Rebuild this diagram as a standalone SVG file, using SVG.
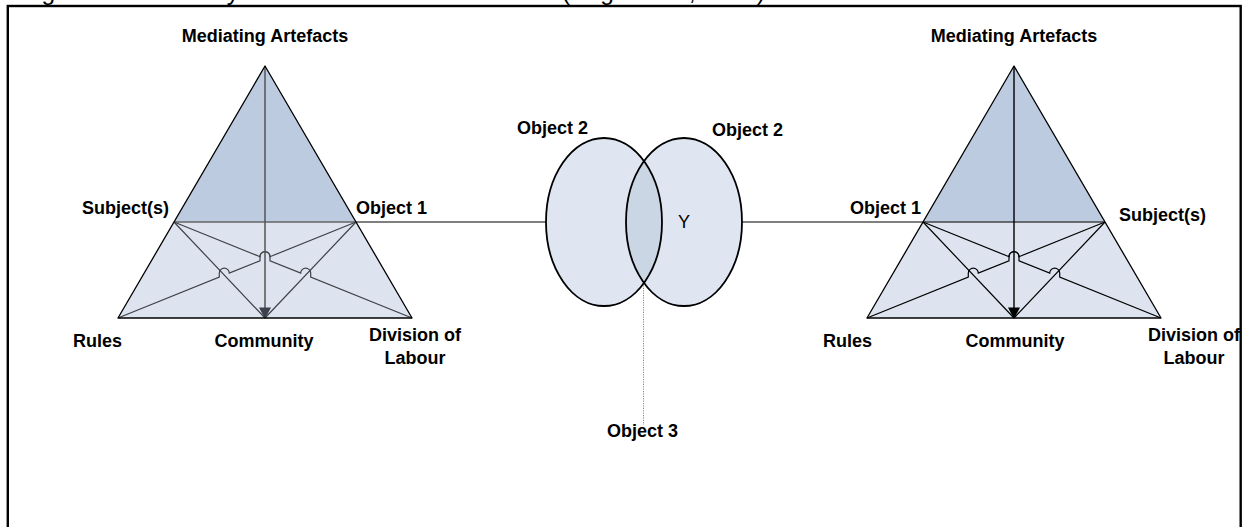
<svg xmlns="http://www.w3.org/2000/svg" width="1244" height="527" viewBox="0 0 1244 527">
  <style>
    .lbl { font-family: "Liberation Sans", Arial, sans-serif; font-size: 18px; font-weight: bold; fill: #000; }
    .plain { font-family: "Liberation Sans", Arial, sans-serif; font-size: 18px; fill: #000; }
    .cap { font-family: "Liberation Sans", Arial, sans-serif; font-size: 24.5px; fill: #000; }
    .top { fill: #bccbdf; stroke: none; }
    .low { fill: #dde4ef; stroke: none; }
    .edge { fill: none; stroke: #000; stroke-width: 1.3; stroke-linejoin: round; }
    .mid { fill: none; stroke: #666; stroke-width: 1.5; }
    .inner-l { fill: none; stroke: #3f4247; stroke-width: 1.2; }
    .inner-r { fill: none; stroke: #000; stroke-width: 1.2; }
    .link { fill: none; stroke: #555; stroke-width: 1.4; }
    .oval { fill: #dfe6f1; stroke: none; }
    .oval-line { fill: none; stroke: #000; stroke-width: 1.8; }
    .lens { fill: #cbd6e5; stroke: none; }
    .dots { fill: none; stroke: #8a8a8a; stroke-width: 1; stroke-dasharray: 1.2 1.2; }
  </style>

  <!-- caption, mostly above the frame -->
  <text class="cap" y="-0.5"><tspan x="21">Figure 2.1:</tspan><tspan x="161.5">Activity Model of the 3rd Generation</tspan><tspan x="562">(Engeström, 1999)</tspan></text>

  <!-- frame -->
  <rect x="7.8" y="6" width="1232.9" height="540" fill="none" stroke="#000" stroke-width="2.4"/>

  <!-- connectors -->
  <g id="connectors">
    <line class="link" x1="356" y1="222" x2="546" y2="222"/>
    <line class="link" x1="742" y1="222" x2="923" y2="222"/>
    <line class="dots" x1="643.5" y1="283" x2="643.5" y2="425"/>
  </g>

  <!-- left activity system -->
  <g id="system-left">
    <polygon class="top" points="265,66 174,222 356,222"/>
    <polygon class="low" points="174,222 356,222 412,318 118,318"/>
    <line class="mid" x1="174" y1="222" x2="356" y2="222"/>
    <path class="inner-l" d="M174,222 L260,256.69 A5,5 0 0 1 270,256.69 L270,260.73 L300.7,273.11 A5,5 0 0 1 310.7,273.11 L310.7,277.14 L412,318"/>
    <path class="inner-l" d="M356,222 L270,256.69 A5,5 0 0 0 260,256.69 L260,260.73 L229.3,273.11 A5,5 0 0 0 219.3,273.11 L219.3,277.14 L118,318"/>
    <path class="inner-l" d="M174,222 L265,318 M356,222 L265,318"/>
    <line x1="265" y1="66" x2="265" y2="309" stroke="#555" stroke-width="1.5"/>
    <polygon points="259,307.5 271,307.5 265,319" fill="#3c414c"/>
    <polygon class="edge" points="265,66 412,318 118,318"/>
  </g>

  <!-- right activity system -->
  <g id="system-right">
    <polygon class="top" points="1014,66 923,222 1105,222"/>
    <polygon class="low" points="923,222 1105,222 1161,318 867,318"/>
    <line x1="923" y1="222" x2="1105" y2="222" stroke="#444" stroke-width="1.4"/>
    <path class="inner-r" d="M923,222 L1009,256.69 A5,5 0 0 1 1019,256.69 L1019,260.73 L1049.7,273.11 A5,5 0 0 1 1059.7,273.11 L1059.7,277.14 L1161,318"/>
    <path class="inner-r" d="M1105,222 L1019,256.69 A5,5 0 0 0 1009,256.69 L1009,260.73 L978.3,273.11 A5,5 0 0 0 968.3,273.11 L968.3,277.14 L867,318"/>
    <path class="inner-r" d="M923,222 L1014,318 M1105,222 L1014,318"/>
    <line x1="1014" y1="66" x2="1014" y2="309" stroke="#000" stroke-width="1.4"/>
    <polygon points="1008,307.5 1020,307.5 1014,319" fill="#000"/>
    <polygon class="edge" points="1014,66 1161,318 867,318"/>
  </g>

  <!-- shared objects -->
  <g id="object-left">
    <ellipse class="oval" cx="604" cy="222" rx="58" ry="84"/>
  </g>
  <g id="object-right">
    <ellipse class="oval" cx="684" cy="222" rx="58" ry="84"/>
  </g>
  <g id="object-overlap">
    <path class="lens" d="M644,161.2 A58,84 0 0 0 644,282.8 A58,84 0 0 0 644,161.2 Z"/>
    <ellipse class="oval-line" cx="604" cy="222" rx="58" ry="84"/>
    <ellipse class="oval-line" cx="684" cy="222" rx="58" ry="84"/>
    <text class="plain" x="684" y="228" text-anchor="middle">Y</text>
  </g>

  <!-- labels -->
  <g id="labels">
    <text class="lbl" x="265" y="42" text-anchor="middle">Mediating Artefacts</text>
    <text class="lbl" x="82" y="214">Subject(s)</text>
    <text class="lbl" x="356" y="214">Object 1</text>
    <text class="lbl" x="73" y="347">Rules</text>
    <text class="lbl" x="264" y="347" text-anchor="middle">Community</text>
    <text class="lbl" x="415" y="341" text-anchor="middle">Division of</text>
    <text class="lbl" x="415" y="364" text-anchor="middle">Labour</text>

    <text class="lbl" x="1014" y="42" text-anchor="middle">Mediating Artefacts</text>
    <text class="lbl" x="921" y="214" text-anchor="end">Object 1</text>
    <text class="lbl" x="1119" y="221">Subject(s)</text>
    <text class="lbl" x="823" y="347">Rules</text>
    <text class="lbl" x="1015" y="347" text-anchor="middle">Community</text>
    <text class="lbl" x="1194" y="341" text-anchor="middle">Division of</text>
    <text class="lbl" x="1194" y="364" text-anchor="middle">Labour</text>

    <text class="lbl" x="517" y="134">Object 2</text>
    <text class="lbl" x="712" y="136">Object 2</text>
    <text class="lbl" x="607" y="437">Object 3</text>
  </g>
</svg>
